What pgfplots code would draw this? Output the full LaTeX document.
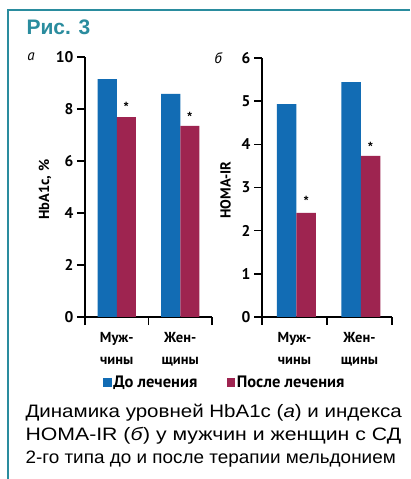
\documentclass[border=0pt]{standalone}
\usepackage{fontspec}
\setmainfont{Liberation Sans}
\newfontfamily\pt{PT Sans}
\usepackage{pgfplots}
\pgfplotsset{compat=1.18}
\definecolor{cblue}{RGB}{18,108,180}
\definecolor{cred}{RGB}{158,36,80}
\definecolor{tealb}{RGB}{42,140,158}
\begin{document}
\begin{tikzpicture}
\path[use as bounding box] (0pt,0pt) rectangle (410pt,479pt);
\fill[white] (0pt,0pt) rectangle (410pt,479pt);
\draw[tealb, line width=2pt] (8pt,0pt) -- (8pt,469pt) -- (410pt,469pt);
\node[anchor=west, text=tealb, font=\fontsize{21}{21}\selectfont\bfseries] at (23pt,452pt) {Рис. 3};
\node[font=\pt\itshape\fontsize{15}{15}\selectfont] at (31pt,422pt) {а};
\node[font=\pt\itshape\fontsize{15}{15}\selectfont] at (218pt,421pt) {б};
\pgfplotsset{
  myax/.style={
    scale only axis, anchor=south west,
    xmin=0, xmax=2, ymin=0,
    axis x line*=bottom, axis y line*=left,
    axis line style={line width=1.6pt, -},
    xtick={0,1,2}, xticklabels={,,},
    extra x ticks={0.5,1.5},
    extra x tick labels={Муж-\\чины,Жен-\\щины},
    extra x tick style={major tick length=0pt,
      tick label style={align=center, yshift=-12pt, font=\pt\bfseries\fontsize{14.5}{21.5}\selectfont}},
    tick align=outside, major tick length=8pt,
    tick style={line width=1.6pt, black},
    ybar, bar width=0.3,
    enlargelimits=false, clip=false,
    yticklabel style={font=\pt\bfseries\fontsize{15.5}{15.5}\selectfont},
    /pgf/number format/assume math mode=true,
    ylabel style={font=\pt\bfseries\fontsize{14.5}{14.5}\selectfont, anchor=center},
  }
}
\begin{axis}[myax, at={(85pt,162pt)}, width=127pt, height=260pt,
  ymax=10, ytick={0,2,...,10},
  ylabel={HbA1c, \%},
  ylabel style={at={(axis description cs:-0.315,0.49)}},
  legend style={at={(axis description cs:1.10,-0.25)}, anchor=center, draw=none, fill=none,
    legend columns=2, font=\pt\bfseries\fontsize{16.5}{16.5}\selectfont,
    nodes={inner xsep=1.5pt},
    /tikz/every even column/.append style={column sep=28pt}},
  legend image code/.code={\fill[#1] (0pt,-4.5pt) rectangle (8.5pt,4pt);}
]
\addplot[fill=cblue, draw=none, bar shift=-0.15] coordinates {(0.5,9.15) (1.5,8.58)};
\addplot[fill=cred, draw=none, bar shift=0.15] coordinates {(0.5,7.69) (1.5,7.35)};
\legend{До лечения, После лечения}
\node[font=\bfseries\fontsize{12}{12}\selectfont] at (axis cs:0.65,8.1) {*};
\node[font=\bfseries\fontsize{12}{12}\selectfont] at (axis cs:1.65,7.7) {*};
\end{axis}
\begin{axis}[myax, at={(262pt,162pt)}, width=130pt, height=259pt,
  ymax=6, ytick={0,1,...,6},
  ylabel={HOMA-IR},
  ylabel style={at={(axis description cs:-0.28,0.49)}},
]
\addplot[fill=cblue, draw=none, bar shift=-0.15] coordinates {(0.53,4.93) (1.52,5.44)};
\addplot[fill=cred, draw=none, bar shift=0.15] coordinates {(0.53,2.41) (1.52,3.73)};
\node[font=\bfseries\fontsize{12}{12}\selectfont] at (axis cs:0.68,2.7) {*};
\node[font=\bfseries\fontsize{12}{12}\selectfont] at (axis cs:1.67,3.95) {*};
\end{axis}
\node[anchor=base west, font=\fontsize{18}{18}\selectfont] at (22pt,61pt) {\scalebox{1.14}[1]{Динамика уровней HbA1c (\textit{а}) и индекса}};
\node[anchor=base west, font=\fontsize{18}{18}\selectfont] at (22pt,38pt) {\scalebox{1.18}[1]{HOMA-IR (\textit{б}) у мужчин и женщин с СД}};
\node[anchor=base west, font=\fontsize{18}{18}\selectfont] at (22pt,15pt) {\scalebox{1.05}[1]{2-го типа до и после терапии мельдонием}};
\end{tikzpicture}
\end{document}
